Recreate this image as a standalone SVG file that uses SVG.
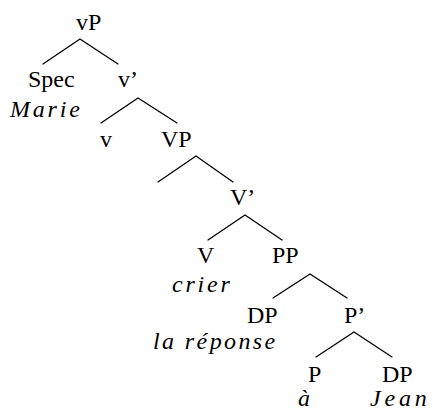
<svg xmlns="http://www.w3.org/2000/svg" width="433" height="413" viewBox="0 0 433 413">
  <rect width="433" height="413" fill="#fff"/>

  <!-- branches -->
  <g id="connectors" stroke="#000" stroke-width="1.3" fill="none" stroke-linecap="round">
    <polyline points="43,64 80,39 118,64"/>
    <polyline points="101,123 138,98 177,123"/>
    <polyline points="158,182 196,156 233,182"/>
    <polyline points="208,240 245,215 282,240"/>
    <polyline points="273,298 310,274 347,298"/>
    <polyline points="316,357 354,332 392,357"/>
  </g>

  <!-- labels: categories upright, words in spaced italics -->
  <g id="vP"><text x="76" y="30" font-family="Liberation Serif" font-size="24">vP</text></g>
  <g id="Spec">
    <text x="28" y="87" font-family="Liberation Serif" font-size="24">Spec</text>
    <text x="10" y="117" font-family="Liberation Serif" font-size="24" font-style="italic" letter-spacing="2.8">Marie</text>
  </g>
  <g id="vbar"><text x="118" y="87" font-family="Liberation Serif" font-size="24">v’</text></g>
  <g id="v"><text x="100" y="147" font-family="Liberation Serif" font-size="24">v</text></g>
  <g id="VP"><text x="161" y="147" font-family="Liberation Serif" font-size="24">VP</text></g>
  <g id="Vbar"><text x="230" y="205" font-family="Liberation Serif" font-size="24">V’</text></g>
  <g id="V">
    <text x="197" y="263" font-family="Liberation Serif" font-size="24">V</text>
    <text x="172" y="292" font-family="Liberation Serif" font-size="24" font-style="italic" letter-spacing="2.8">crier</text>
  </g>
  <g id="PP"><text x="272" y="263" font-family="Liberation Serif" font-size="24">PP</text></g>
  <g id="DP1">
    <text x="247" y="323" font-family="Liberation Serif" font-size="24">DP</text>
    <text x="153" y="349" font-family="Liberation Serif" font-size="24" font-style="italic" letter-spacing="2.4">la réponse</text>
  </g>
  <g id="Pbar"><text x="344" y="323" font-family="Liberation Serif" font-size="24">P’</text></g>
  <g id="P">
    <text x="308" y="382" font-family="Liberation Serif" font-size="24">P</text>
    <text x="298" y="406" font-family="Liberation Serif" font-size="24" font-style="italic">à</text>
  </g>
  <g id="DP2">
    <text x="382" y="382" font-family="Liberation Serif" font-size="24">DP</text>
    <text x="370" y="406" font-family="Liberation Serif" font-size="24" font-style="italic" letter-spacing="3.8">Jean</text>
  </g>
</svg>
